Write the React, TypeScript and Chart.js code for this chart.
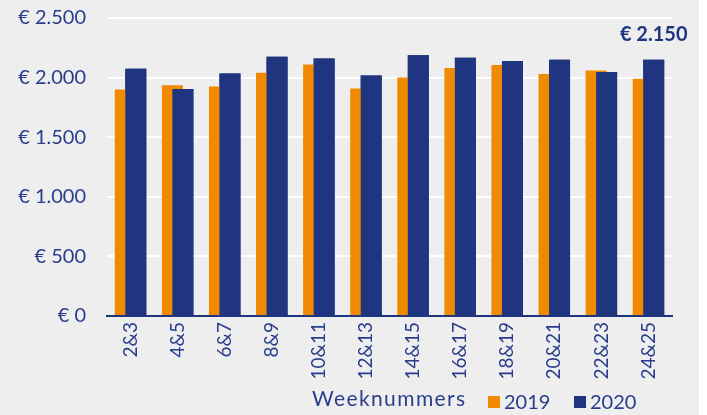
import React, { useEffect, useRef } from 'react';
import { Chart, registerables } from 'chart.js';

Chart.register(...registerables);

const categories = ['2&3', '4&5', '6&7', '8&9', '10&11', '12&13', '14&15', '16&17', '18&19', '20&21', '22&23', '24&25'];
const values2019 = [1900, 1935, 1925, 2040, 2110, 1908, 2000, 2080, 2105, 2030, 2060, 1990];
const values2020 = [2075, 1905, 2035, 2175, 2160, 2017, 2187, 2167, 2140, 2150, 2047, 2150];
const seriesNames = ['2019', '2020'];
const xTitle = 'Weeknummers';
const yMax = 2500;
const yStep = 500;

const ORANGE = '#f08a00';
const BLUE = '#1f3580';
const TEXT = '#2a3d8c';
const FONT = 'Lato, "Open Sans", sans-serif';

const fmtEuro = (v: number) =>
  '€ ' + String(Math.round(v)).replace(/\B(?=(\d{3})+(?!\d))/g, '.');

export default function App() {
  const ref = useRef<HTMLCanvasElement | null>(null);

  useEffect(() => {
    document.body.style.margin = '0';
    const canvas = ref.current;
    if (!canvas) return;

    const decor = {
      id: 'decor',
      beforeDraw(chart: any) {
        const ctx = chart.ctx;
        ctx.save();
        ctx.fillStyle = '#eeeeee';
        ctx.fillRect(0, 0, 699, chart.height);
        ctx.restore();
      },
      afterDatasetsDraw(chart: any) {
        // redraw 2020 bars on top of 2019 (overlapping bars)
        const meta = chart.getDatasetMeta(1);
        meta.data.forEach((el: any) => el.draw(chart.ctx));
      },
      afterDraw(chart: any) {
        const ctx = chart.ctx;
        const area = chart.chartArea;
        ctx.save();
        ctx.fillStyle = TEXT;
        ctx.textBaseline = 'middle';
        ctx.textAlign = 'left';
        const yRow = area.bottom + 86;
        // axis title
        ctx.font = `21px ${FONT}`;
        (ctx as any).letterSpacing = '1.4px';
        ctx.fillText(xTitle, area.left + 205, yRow - 3);
        (ctx as any).letterSpacing = '0px';
        // legend
        ctx.font = `20px ${FONT}`;
        let lx = area.left + 381;
        const colors = [ORANGE, BLUE];
        seriesNames.forEach((name, i) => {
          ctx.fillStyle = colors[i];
          ctx.fillRect(lx, yRow - 6, 12, 12);
          ctx.fillStyle = TEXT;
          ctx.fillText(name, lx + 16, yRow + 1);
          lx += 86;
        });
        // annotation for last 2020 value
        const m = chart.getDatasetMeta(1);
        const last = m.data[m.data.length - 1];
        ctx.font = `bold 20px ${FONT}`;
        ctx.fillStyle = BLUE;
        ctx.textAlign = 'center';
        ctx.fillText(fmtEuro(values2020[values2020.length - 1]), last.x, last.y - 25);
        ctx.restore();
      },
    };

    const chart = new Chart(canvas, {
      type: 'bar',
      data: {
        labels: categories,
        datasets: [
          {
            label: seriesNames[0],
            data: values2019,
            backgroundColor: ORANGE,
            barPercentage: 2,
            categoryPercentage: 0.446,
          },
          {
            label: seriesNames[1],
            data: values2020,
            backgroundColor: BLUE,
            barPercentage: 2,
            categoryPercentage: 0.446,
          },
        ],
      },
      options: {
        animation: false,
        responsive: false,
        devicePixelRatio: 1,
        layout: { padding: { top: 18, right: 35, left: 0, bottom: 0 } },
        plugins: {
          legend: { display: false },
          tooltip: { enabled: false },
          title: { display: false },
        },
        scales: {
          x: {
            grid: { display: false, drawTicks: false },
            border: { display: true, color: BLUE, width: 2 },
            ticks: {
              autoSkip: false,
              minRotation: 90,
              maxRotation: 90,
              padding: 6,
              color: TEXT,
              font: { family: FONT, size: 19 },
            },
            afterFit(scale: any) {
              scale.height = 99;
            },
          },
          y: {
            min: 0,
            max: yMax,
            ticks: {
              stepSize: yStep,
              padding: 3,
              color: TEXT,
              font: { family: FONT, size: 20 },
              callback: (v: any) => fmtEuro(Number(v)),
            },
            grid: {
              color: '#ffffff',
              lineWidth: 2,
              drawTicks: true,
              tickLength: 18,
              tickColor: 'rgba(0,0,0,0)',
            },
            border: { display: false },
            afterFit(scale: any) {
              scale.width = 107;
            },
          },
        },
      },
      plugins: [decor],
    });

    return () => chart.destroy();
  }, []);

  return (
    <div style={{ position: 'absolute', left: 0, top: 0, width: 707, height: 415, background: '#ffffff' }}>
      <canvas ref={ref} width={707} height={415} style={{ display: 'block', width: 707, height: 415 }} />
    </div>
  );
}
